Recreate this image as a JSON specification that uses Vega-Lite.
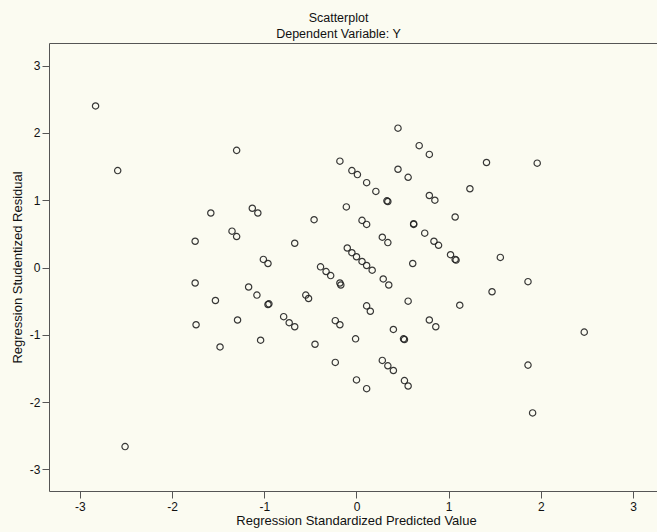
{
  "$schema": "https://vega.github.io/schema/vega-lite/v6.json",
  "width": 609,
  "height": 448,
  "autosize": {"type": "none"},
  "padding": {"left": 49, "top": 43, "right": 0, "bottom": 41},
  "background": "#fbfbf1",
  "title": {
    "text": ["Scatterplot", "Dependent Variable: Y"],
    "anchor": "middle",
    "dx": -15,
    "offset": 3,
    "lineHeight": 16,
    "font": "Liberation Sans",
    "fontSize": 12.5,
    "fontWeight": "normal",
    "color": "#111111"
  },
  "config": {
    "view": {"stroke": "#555555", "strokeWidth": 1, "fill": null},
    "axis": {
      "grid": false,
      "domain": false,
      "tickColor": "#555555",
      "tickSize": 7,
      "tickWidth": 1,
      "labelFont": "Liberation Sans",
      "labelFontSize": 12,
      "labelColor": "#111111",
      "labelExpr": "'' + datum.value",
      "titleFont": "Liberation Sans",
      "titleFontSize": 13,
      "titleFontWeight": "normal",
      "titleColor": "#111111"
    }
  },
  "data": {
    "values": [
      {"pred": -2.83, "resid": 2.40},
      {"pred": -2.59, "resid": 1.44},
      {"pred": -1.30, "resid": 1.74},
      {"pred": -1.58, "resid": 0.81},
      {"pred": -1.13, "resid": 0.88},
      {"pred": -1.07, "resid": 0.81},
      {"pred": -1.35, "resid": 0.54},
      {"pred": -1.30, "resid": 0.46},
      {"pred": -1.75, "resid": 0.39},
      {"pred": -1.75, "resid": -0.23},
      {"pred": -1.53, "resid": -0.49},
      {"pred": -1.17, "resid": -0.29},
      {"pred": -1.08, "resid": -0.41},
      {"pred": -1.29, "resid": -0.78},
      {"pred": -1.74, "resid": -0.85},
      {"pred": -1.48, "resid": -1.18},
      {"pred": -1.04, "resid": -1.08},
      {"pred": -2.51, "resid": -2.66},
      {"pred": -1.01, "resid": 0.12},
      {"pred": -0.96, "resid": 0.06},
      {"pred": 0.45, "resid": 2.07},
      {"pred": 0.68, "resid": 1.81},
      {"pred": 0.79, "resid": 1.68},
      {"pred": 0.45, "resid": 1.46},
      {"pred": 0.56, "resid": 1.34},
      {"pred": 1.23, "resid": 1.17},
      {"pred": -0.18, "resid": 1.58},
      {"pred": -0.05, "resid": 1.44},
      {"pred": 0.01, "resid": 1.38},
      {"pred": 0.11, "resid": 1.26},
      {"pred": 0.21, "resid": 1.13},
      {"pred": 0.33, "resid": 0.99},
      {"pred": 0.34, "resid": 0.98},
      {"pred": 0.79, "resid": 1.07},
      {"pred": 0.85, "resid": 1.00},
      {"pred": -0.11, "resid": 0.90},
      {"pred": -0.46, "resid": 0.71},
      {"pred": 0.06, "resid": 0.70},
      {"pred": 0.11, "resid": 0.64},
      {"pred": 1.07, "resid": 0.75},
      {"pred": 0.62, "resid": 0.65},
      {"pred": 0.62, "resid": 0.64},
      {"pred": 0.74, "resid": 0.51},
      {"pred": 0.28, "resid": 0.45},
      {"pred": 0.34, "resid": 0.37},
      {"pred": 0.84, "resid": 0.39},
      {"pred": 0.89, "resid": 0.33},
      {"pred": -0.67, "resid": 0.36},
      {"pred": -0.10, "resid": 0.29},
      {"pred": -0.05, "resid": 0.22},
      {"pred": 0.00, "resid": 0.16},
      {"pred": 0.06, "resid": 0.09},
      {"pred": 0.11, "resid": 0.03},
      {"pred": 0.17, "resid": -0.04},
      {"pred": 0.61, "resid": 0.06},
      {"pred": 1.02, "resid": 0.19},
      {"pred": 1.07, "resid": 0.12},
      {"pred": 1.08, "resid": 0.11},
      {"pred": -0.39, "resid": 0.01},
      {"pred": -0.33, "resid": -0.06},
      {"pred": -0.28, "resid": -0.12},
      {"pred": 0.29, "resid": -0.17},
      {"pred": 1.41, "resid": 1.56},
      {"pred": 1.96, "resid": 1.55},
      {"pred": 1.56, "resid": 0.15},
      {"pred": 1.86, "resid": -0.21},
      {"pred": 1.47, "resid": -0.36},
      {"pred": 1.12, "resid": -0.56},
      {"pred": 2.47, "resid": -0.96},
      {"pred": 1.86, "resid": -1.45},
      {"pred": -0.18, "resid": -0.23},
      {"pred": -0.17, "resid": -0.26},
      {"pred": 0.35, "resid": -0.26},
      {"pred": -0.96, "resid": -0.55},
      {"pred": -0.95, "resid": -0.54},
      {"pred": -0.55, "resid": -0.41},
      {"pred": -0.52, "resid": -0.46},
      {"pred": 0.56, "resid": -0.50},
      {"pred": 0.11, "resid": -0.57},
      {"pred": 0.15, "resid": -0.65},
      {"pred": -0.79, "resid": -0.73},
      {"pred": -0.73, "resid": -0.82},
      {"pred": -0.67, "resid": -0.88},
      {"pred": -0.23, "resid": -0.79},
      {"pred": -0.18, "resid": -0.85},
      {"pred": 0.79, "resid": -0.78},
      {"pred": 0.86, "resid": -0.88},
      {"pred": 0.40, "resid": -0.92},
      {"pred": 0.51, "resid": -1.06},
      {"pred": 0.52, "resid": -1.07},
      {"pred": -0.01, "resid": -1.06},
      {"pred": -0.45, "resid": -1.14},
      {"pred": -0.23, "resid": -1.41},
      {"pred": 0.28, "resid": -1.38},
      {"pred": 0.34, "resid": -1.46},
      {"pred": 0.40, "resid": -1.53},
      {"pred": 0.00, "resid": -1.67},
      {"pred": 0.11, "resid": -1.80},
      {"pred": 0.52, "resid": -1.68},
      {"pred": 0.56, "resid": -1.76},
      {"pred": 1.91, "resid": -2.16}
    ]
  },
  "mark": {
    "type": "point",
    "shape": "circle",
    "filled": false,
    "size": 40,
    "stroke": "#222222",
    "strokeWidth": 1.2,
    "opacity": 0.9
  },
  "encoding": {
    "x": {
      "field": "pred",
      "type": "quantitative",
      "scale": {"domain": [-3.335, 3.27], "nice": false, "zero": false},
      "axis": {
        "title": "Regression Standardized Predicted Value",
        "values": [-3, -2, -1, 0, 1, 2, 3],
        "labelPadding": 3,
        "titlePadding": 2,
        "titleX": 307
      }
    },
    "y": {
      "field": "resid",
      "type": "quantitative",
      "scale": {"domain": [-3.32, 3.335], "nice": false, "zero": false},
      "axis": {
        "title": "Regression Studentized Residual",
        "values": [-3, -2, -1, 0, 1, 2, 3],
        "labelPadding": 2,
        "titlePadding": 5
      }
    }
  }
}
